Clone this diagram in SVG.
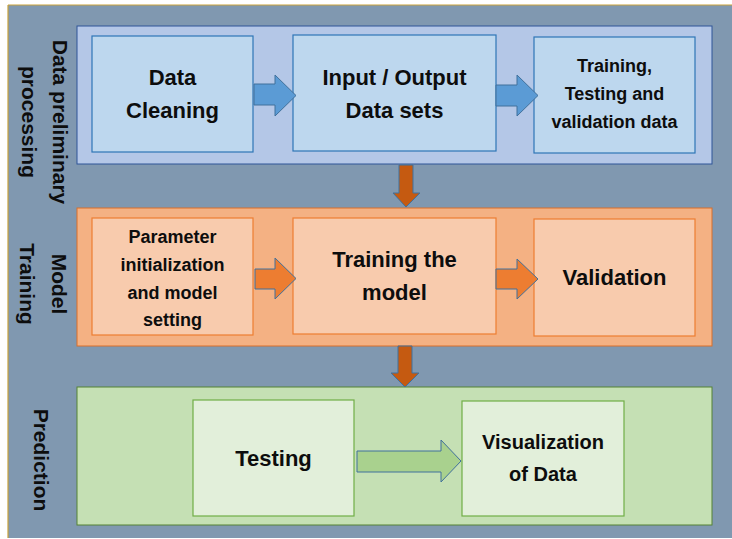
<svg xmlns="http://www.w3.org/2000/svg" width="732" height="539" viewBox="0 0 732 539">
  <style>
    text { font-family: "Liberation Sans", Arial, sans-serif; font-weight: bold; fill: #0d0d0d; text-anchor: middle; }
    .side { font-size: 21px; }
    .big { font-size: 22px; }
    .mid { font-size: 18px; }
    .med { font-size: 20px; }
    .panel-blue { fill: #b4c7e7; stroke: #2f5597; stroke-width: 1; }
    .node-blue { fill: #bdd7ee; stroke: #2e75b6; stroke-width: 1.2; }
    .panel-orange { fill: #f4b183; stroke: #d86f2a; stroke-width: 1; }
    .node-orange { fill: #f8cbad; stroke: #ed7d31; stroke-width: 1.2; }
    .panel-green { fill: #c5e0b4; stroke: #548235; stroke-width: 1; }
    .node-green { fill: #e2efda; stroke: #70ad47; stroke-width: 1.2; }
    .arr { stroke: #41719c; stroke-width: 1; }
  </style>

  <!-- backdrop -->
  <rect x="8" y="5" width="724" height="533" fill="#8098b0"/>
  <line x1="8" y1="5" x2="732" y2="5" stroke="#c9a23a" stroke-width="1.2"/>
  <line x1="8" y1="5" x2="8" y2="538" stroke="#c9a23a" stroke-width="1.2"/>

  <!-- stage panels -->
  <g id="stage-preprocessing">
    <rect class="panel-blue" x="77" y="26" width="635" height="138"/>
    <g transform="translate(53,122) rotate(90)">
      <text class="side" x="0" y="0">Data preliminary</text>
      <text class="side" x="0" y="31">processing</text>
    </g>
  </g>
  <g id="stage-training">
    <rect class="panel-orange" x="77" y="208" width="635" height="138"/>
    <g transform="translate(52,284) rotate(90)">
      <text class="side" x="0" y="0">Model</text>
      <text class="side" x="0" y="32">Training</text>
    </g>
  </g>
  <g id="stage-prediction">
    <rect class="panel-green" x="77" y="387" width="635" height="138"/>
    <g transform="translate(34,460) rotate(90)">
      <text class="side" x="0" y="0">Prediction</text>
    </g>
  </g>

  <!-- nodes -->
  <g id="data-cleaning">
    <rect class="node-blue" x="92" y="36" width="161" height="116"/>
    <text class="big" x="172.5" y="85">Data</text>
    <text class="big" x="172.5" y="118">Cleaning</text>
  </g>
  <g id="io-data-sets">
    <rect class="node-blue" x="293" y="35" width="203" height="116"/>
    <text class="big" x="394.5" y="85">Input / Output</text>
    <text class="big" x="394.5" y="118">Data sets</text>
  </g>
  <g id="split-data">
    <rect class="node-blue" x="534" y="37" width="161" height="116"/>
    <text class="mid" x="614.5" y="72">Training,</text>
    <text class="mid" x="614.5" y="100">Testing and</text>
    <text class="mid" x="614.5" y="128">validation data</text>
  </g>
  <g id="param-init">
    <rect class="node-orange" x="92" y="218" width="161" height="117"/>
    <text class="mid" x="172.5" y="243">Parameter</text>
    <text class="mid" x="172.5" y="271">initialization</text>
    <text class="mid" x="172.5" y="299">and model</text>
    <text class="mid" x="172.5" y="326">setting</text>
  </g>
  <g id="train-model">
    <rect class="node-orange" x="293" y="218" width="203" height="116"/>
    <text class="big" x="394.5" y="267">Training the</text>
    <text class="big" x="394.5" y="300">model</text>
  </g>
  <g id="validation">
    <rect class="node-orange" x="534" y="219" width="161" height="117"/>
    <text class="big" x="614.5" y="285">Validation</text>
  </g>
  <g id="testing">
    <rect class="node-green" x="193" y="400" width="161" height="116"/>
    <text class="big" x="273.5" y="466">Testing</text>
  </g>
  <g id="visualization">
    <rect class="node-green" x="462" y="401" width="162" height="115"/>
    <text class="med" x="543" y="449">Visualization</text>
    <text class="med" x="543" y="481">of Data</text>
  </g>

  <!-- block arrows -->
  <g id="connectors">
    <polygon class="arr" fill="#5b9bd5" points="254,84 275,84 275,75 296,95.5 275,116 275,105 254,105"/>
    <polygon class="arr" fill="#5b9bd5" points="496,85 517,85 517,75 538,95.5 517,116 517,106 496,106"/>
    <polygon class="arr" fill="#c55a11" points="399,165 413,165 413,193 420,193 406,207 393,193 399,193"/>
    <polygon class="arr" fill="#ed7d31" points="255,269 275,269 275,258 296,278.5 275,299 275,289 255,289"/>
    <polygon class="arr" fill="#ed7d31" points="496,269 517,269 517,259 538,279 517,299 517,289 496,289"/>
    <polygon class="arr" fill="#c55a11" points="398,346 412,346 412,373 419,373 405,387 391,373 398,373"/>
    <polygon class="arr" fill="#a9d18e" points="357,451 441,451 441,440 461,461 441,482 441,472 357,472"/>
  </g>
</svg>
